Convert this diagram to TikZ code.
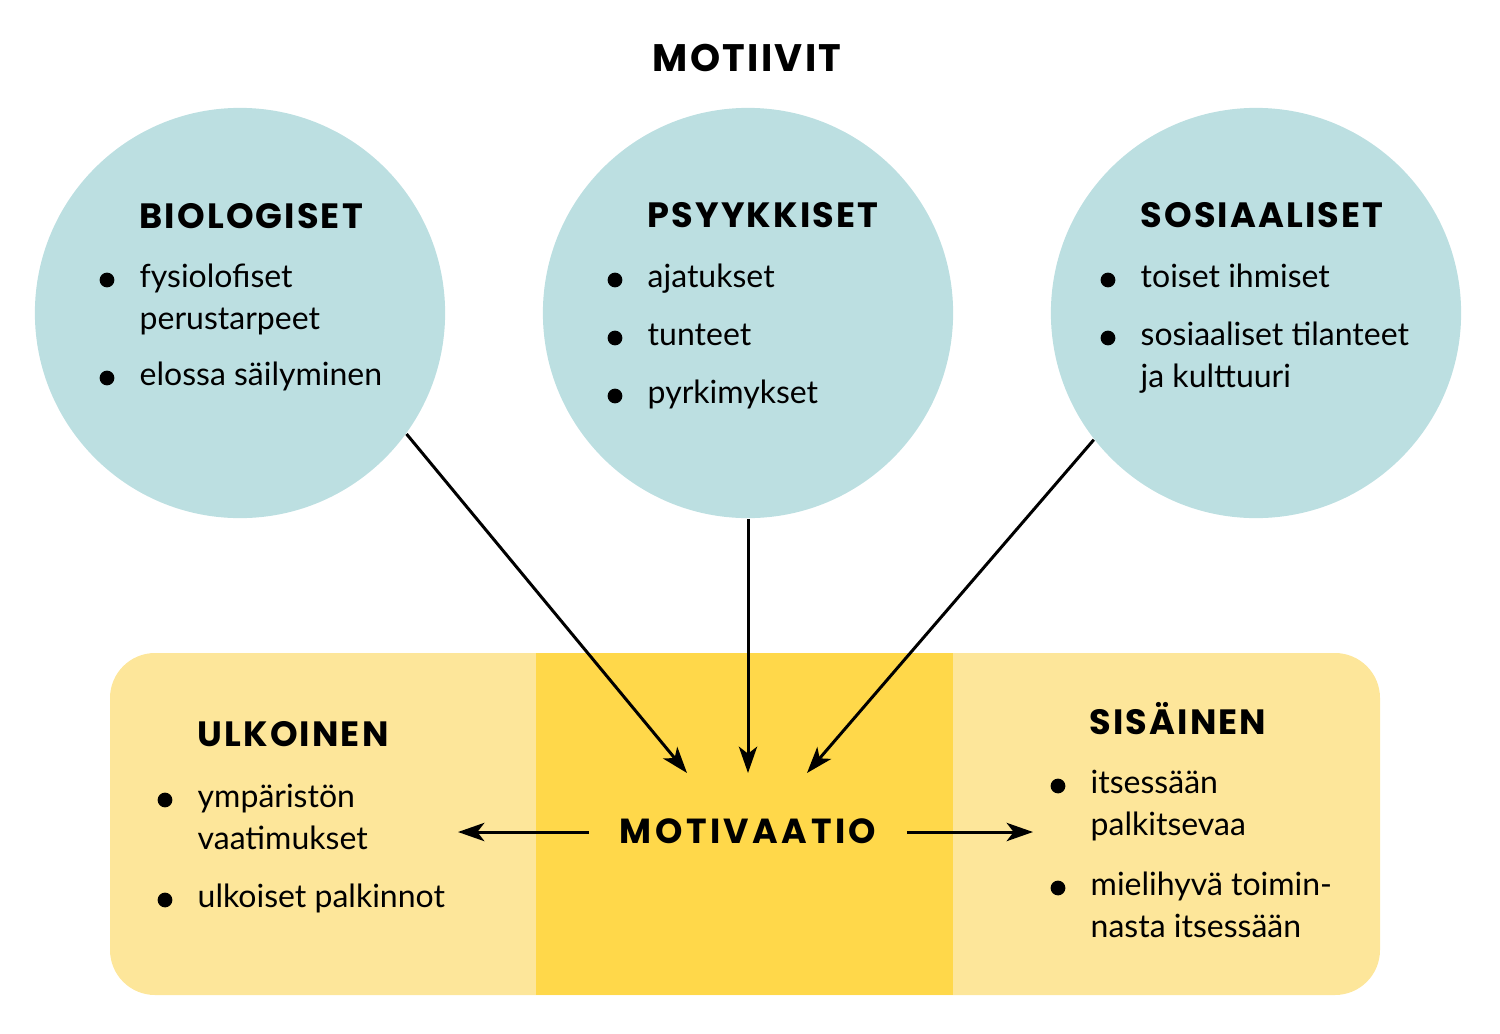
\documentclass[tikz,border=0pt]{standalone}
\usepackage{fontspec}
\setmainfont{Lato}
\newfontfamily\headfont{Poppins}[LetterSpace=6]
\newfontfamily\motfont{Poppins}[LetterSpace=10]
\usetikzlibrary{arrows.meta,positioning}
\definecolor{motblue}{HTML}{BCDFE1}
\definecolor{paleyel}{HTML}{FDE69A}
\definecolor{deepyel}{HTML}{FFD84A}
\newcommand{\lines}[1]{\begin{tabular}[t]{@{}l@{}}#1\end{tabular}}
\tikzset{
  motive/.style={circle,fill=motblue,minimum size=4.1cm,inner sep=0pt},
  head/.style  ={font=\headfont\bfseries\fontsize{10}{12}\selectfont,anchor=base west,inner sep=0pt},
  itm/.style   ={font=\fontsize{9.1}{12}\selectfont,anchor=base west,inner sep=0pt},
  dot/.style   ={circle,fill=black,inner sep=0pt,minimum size=4.2pt},
  ar/.style    ={-{Stealth[length=7.5pt,width=5.2pt,inset=2pt]},line width=0.85pt},
}
\begin{document}
\begin{tikzpicture}[x=0.01cm,y=-0.01cm]
  \useasboundingbox (0,0) rectangle (1500,1033);
  % motives
  \foreach \x/\n in {240/bio,748/psy,1256/sos}{\node[motive] (\n) at (\x,313){};}
  \node[font=\headfont\bfseries\fontsize{10.9}{13}\selectfont,anchor=base,inner sep=0pt] (title) at (747,71) {MOTIIVIT};
  % bottom band
  \fill[paleyel,rounded corners=0.45cm] (110,653) rectangle (1380,995);
  \fill[deepyel] (536,653) rectangle (953,995);
  \node[head] (hbio) at (139,228) {BIOLOGISET};
  \node[head] (hpsy) at (647,227) {PSYYKKISET};
  \node[head] (hsos) at (1140,227) {SOSIAALISET};
  \node[head] (hulk) at (197,746) {ULKOINEN};
  \node[head] (hsis) at (1089,734) {SISÄINEN};
  \foreach \n/\x/\y/\t in {
    b1/139/287/{fysiolofiset\\perustarpeet}, b2/139/385/{elossa säilyminen},
    p1/647/287/{ajatukset}, p2/647/345/{tunteet}, p3/647/403/{pyrkimykset},
    s1/1140/287/{toiset ihmiset}, s2/1140/345/{sosiaaliset tilanteet\\ja kulttuuri},
    u1/197/807/{ympäristön\\vaatimukset}, u2/197/907/{ulkoiset palkinnot},
    i1/1090/793/{itsessään\\palkitsevaa}, i2/1090/895/{mielihyvä toimin-\\nasta itsessään}}{
    \node[dot] (d\n) at (\x-32,\y-7){};
    \node[itm] (\n) at (\x,\y){\lines{\t}};
  }
  \node[font=\motfont\bfseries\fontsize{9.9}{12}\selectfont,anchor=base,inner xsep=8.5pt,inner ysep=0pt] (mot) at (748,843) {MOTIVAATIO};
  \coordinate (tipL) at (687,773); \coordinate (tipM) at (748,773); \coordinate (tipR) at (807,773);
  \coordinate (toulk) at (458,832); \coordinate (tosis) at (1033,832);
  \draw[ar] (bio.-36) -- (tipL);
  \draw[ar] (psy.south) -- (tipM);
  \draw[ar] (sos.-142.5) -- (tipR);
  \draw[ar] (mot.west|-toulk) -- (toulk);
  \draw[ar] (mot.east|-tosis) -- (tosis);
\end{tikzpicture}
\end{document}
